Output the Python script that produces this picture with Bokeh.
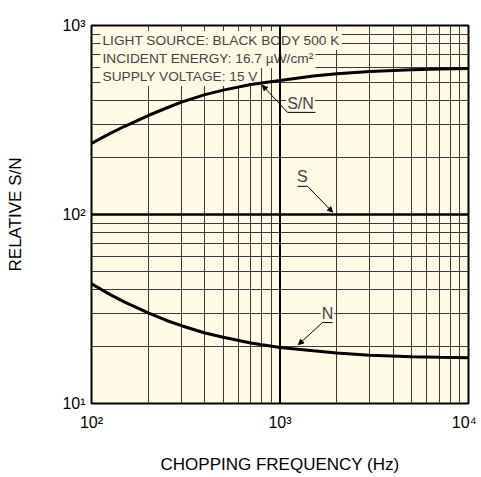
from bokeh.plotting import figure
from bokeh.models import FixedTicker, Span, Label, Arrow, NormalHead, Range1d
from bokeh.embed import file_html
from bokeh.resources import INLINE

# ---- data ----
freq = [100, 125, 150, 200, 250, 300, 400, 500, 700, 1000, 1500, 2000, 3000, 5000, 7000, 10000]
sn_vals = [238, 268, 293, 334, 366, 393, 431, 455, 487, 512, 540, 556, 571, 583, 589, 592]
n_vals = [43.0, 37.8, 34.4, 30.2, 27.5, 25.8, 23.6, 22.4, 20.9, 19.8, 19.0, 18.5, 18.0, 17.7, 17.55, 17.45]
s_freq = [100, 10000]
s_vals = [100, 100]

x_ticks = [100, 1000, 10000]
x_tick_labels = ["10\u00b2", "10\u00b3", "10\u2074"]
y_ticks = [10, 100, 1000]
y_tick_labels = ["10\u00b9", "10\u00b2", "10\u00b3"]
x_minor = [m * d for d in (100, 1000) for m in range(2, 10)]
y_minor = [m * d for d in (10, 100) for m in range(2, 10)]

conditions = ["LIGHT SOURCE: BLACK BODY 500 K",
              "INCIDENT ENERGY: 16.7 \u00b5W/cm\u00b2",
              "SUPPLY VOLTAGE: 15 V"]

FONT = "Liberation Sans"
BG = "#fffbe6"
GRID = "#3a3a3a"

p = figure(width=476, height=476, x_axis_type="log", y_axis_type="log",
           x_range=Range1d(100, 10000), y_range=Range1d(10, 1000),
           output_backend="svg", toolbar_location=None,
           min_border_left=91, min_border_right=8, min_border_top=25, min_border_bottom=73)
p.background_fill_color = BG
p.border_fill_color = "white"
p.outline_line_color = "black"
p.outline_line_width = 2

p.xgrid.ticker = FixedTicker(ticks=x_minor)
p.ygrid.ticker = FixedTicker(ticks=y_minor)
for g in (p.xgrid, p.ygrid):
    g.grid_line_color = GRID
    g.grid_line_width = 1

p.add_layout(Span(location=1000, dimension="height", line_color="black", line_width=2))

for ax, ticks, labels in ((p.xaxis[0], x_ticks, x_tick_labels), (p.yaxis[0], y_ticks, y_tick_labels)):
    ax.ticker = FixedTicker(ticks=ticks)
    ax.major_label_overrides = {float(t): l for t, l in zip(ticks, labels)}
    ax.major_tick_line_color = None
    ax.minor_tick_line_color = None
    ax.major_tick_out = 0
    ax.major_tick_in = 0
    ax.minor_tick_out = 0
    ax.axis_line_color = None
    ax.major_label_text_font = FONT
    ax.major_label_text_font_size = "16px"
    ax.major_label_text_color = "black"
    ax.axis_label_text_font = FONT
    ax.axis_label_text_font_size = "17px"
    ax.axis_label_text_font_style = "normal"
    ax.axis_label_text_color = "black"

p.xaxis.axis_label = "CHOPPING FREQUENCY (Hz)"
p.yaxis.axis_label = "RELATIVE S/N"
p.xaxis.major_label_standoff = 10
p.xaxis.axis_label_standoff = 21
p.yaxis.major_label_standoff = 6
p.yaxis.axis_label_standoff = 34

# curves
p.line(freq, sn_vals, line_color="black", line_width=3)
p.line(s_freq, s_vals, line_color="black", line_width=2.5)
p.line(freq, n_vals, line_color="black", line_width=3)

# condition text block (under the curves, over the grid)
for i, t in enumerate(conditions):
    p.add_layout(Label(x=100, y=1000, x_offset=9, y_offset=-15 - 18 * i, text=t,
                       text_font=FONT, text_font_size="13.7px", text_baseline="middle",
                       background_fill_color=BG, padding=2, level="underlay"))

p.add_layout(Label(x=10000, y=1000, x_offset=0, y_offset=13, text="(Typ. Ta=25 \u02daC)",
                   text_font=FONT, text_font_size="15px", text_align="right",
                   text_baseline="middle"))

# curve labels with leader lines
def curve_label(text, tx, ty, ux0, ux1, uy, ax, ay):
    p.add_layout(Label(x=tx, y=ty, text=text, text_font=FONT, text_font_size="16px",
                       text_align="center", text_baseline="middle",
                       background_fill_color=BG, padding=1, level="underlay"))
    p.segment([ux0], [uy], [ux1], [uy], line_color="black", line_width=1)
    p.add_layout(Arrow(x_start=ux0 if ax < ux0 else ux1, y_start=uy, x_end=ax, y_end=ay,
                       line_color="black", line_width=1,
                       end=NormalHead(size=5, fill_color="black", line_color="black")))

curve_label("S/N", 1285, 386, 1096, 1542, 347, 807, 482)
curve_label("S", 1315, 159, 1239, 1399, 141, 1900, 103)
curve_label("N", 1786, 29.9, 1679, 1900, 26.8, 1253, 20.5)

open("out.html", "w").write(file_html(p, INLINE))
